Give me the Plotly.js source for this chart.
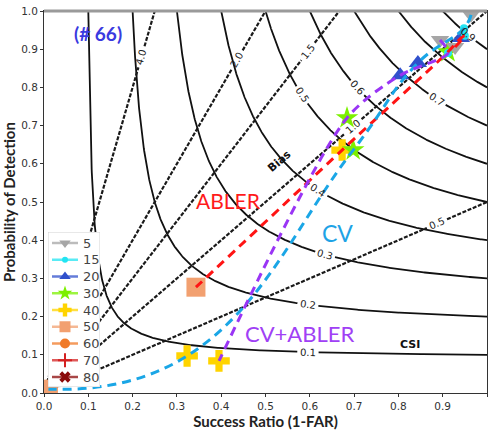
<!DOCTYPE html>
<html><head><meta charset="utf-8">
<script src="https://cdn.plot.ly/plotly-3.0.1.min.js"></script>
<style>html,body{margin:0;padding:0;background:#fff}#chart{width:492px;height:430px}</style>
</head><body><div id="chart"></div>
<script>
// ---- data ----
const thresholds = ['5','15','20','30','40','50','60','70','80'];
const cvSR     = [0.964,0.948,0.844,0.698,0.323,0.01,0.01,0.01,0.01];
const cvPOD    = [0.990,0.955,0.864,0.636,0.097,0.01,0.01,0.01,0.01];
const cvabSR   = [0.894,0.912,0.804,0.684,0.395,null,null,null,null];
const cvabPOD  = [0.924,0.890,0.832,0.720,0.084,null,null,null,null];
const ablerSR  = [0.928,0.950,0.941,0.912,0.673,0.343,null,null,null];
const ablerPOD = [0.906,0.935,0.929,0.893,0.636,0.277,null,null,null];

const csiLevels  = [0.1,0.2,0.3,0.4,0.5,0.6,0.7,0.8,0.9];
const csiLabelSR = [0.596,0.596,0.634,0.619,0.582,0.707,0.887,null,0.957];
const biasLevels  = [0.5,1.0,1.5,2.0,4.0];
const biasLabelSR = [0.887,0.698,0.596,0.436,0.22];

// ---- styles ----
const W=443, H=382, L=44, T=11;
const mkSym   = ['triangle-down','circle','triangle-up','star','cross','square','circle','cross-thin','x'];
const mkColor = ['#A6A6A6','#22E4F2','#3050CC','#7CF000','#FFD400','#F2A070','#F07A28','#D42020','#8B0A0A'];
const mkSize  = [16,8,16,17,18,19,12,12,12];
const lgSize  = [10,6,10,11,11,11,10,10,10];

const px = s => L + s*W, py = p => T + H - p*H;

const traces = [];
// CSI curves
const cx=[], cy=[];
csiLevels.forEach((c,k)=>{
  const ls = csiLabelSR[k];
  let lx=null, ly=null;
  if(ls!==null){ const lp = 1/(1/c+1-1/ls); lx=px(ls); ly=py(lp); }
  let broken=false;
  for(let i=0;i<=500;i++){
    const t=i/500, s=c+(1-c)*t*t;
    const p=1/(1/c+1-1/s);
    if(lx!==null && Math.hypot(px(s)-lx,py(p)-ly)<10){ if(!broken){cx.push(null);cy.push(null);broken=true;} continue; }
    cx.push(s); cy.push(Math.min(p,1));
  }
  cx.push(null); cy.push(null);
});
traces.push({x:cx,y:cy,mode:'lines',line:{color:'#111',width:1.8},showlegend:false,hoverinfo:'skip'});
// Bias lines
const bx=[], by=[];
biasLevels.forEach((b,k)=>{
  const es = Math.min(1,1/b), ep = Math.min(1,b);
  const ls = biasLabelSR[k];
  const len = Math.hypot(W,b*H);
  const g = 11/len;
  bx.push(0, ls-g, null, ls+g, es, null);
  by.push(0, (ls-g)*b, null, (ls+g)*b, ep, null);
});
traces.push({x:bx,y:by,mode:'lines',line:{color:'#1a1a1a',width:2.2,dash:'4px,1.6px'},showlegend:false,hoverinfo:'skip'});

// markers per threshold (drawn from 80 up to 5)
for(let i=thresholds.length-1;i>=0;i--){
  traces.push({
    x:[cvSR[i],cvabSR[i],ablerSR[i]], y:[cvPOD[i],cvabPOD[i],ablerPOD[i]],
    mode:'markers', showlegend:false, hoverinfo:'skip',
    marker:{symbol:mkSym[i],size:mkSize[i],color:mkColor[i],line:{width:(i===7?2.5:0),color:mkColor[i]}}
  });
}

// model lines
function clean(xs,ys){
  const ox=[],oy=[];
  xs.forEach((v,i)=>{ if(v===null||ys[i]===null) return;
    if(ox.length && ox[ox.length-1]===v && oy[oy.length-1]===ys[i]) return;
    ox.push(v); oy.push(ys[i]); });
  return [ox,oy];
}
[[ablerSR,ablerPOD,'#FF1414',0.8],[cvSR,cvPOD,'#1AA6E6',1.3],[cvabSR,cvabPOD,'#9A35F5',0.8]].forEach(([xs,ys,col,sm])=>{
  const [ox,oy]=clean(xs,ys);
  traces.push({x:ox,y:oy,mode:'lines',line:{color:col,width:3,dash:'9px,6px',shape:'spline',smoothing:sm},showlegend:false,hoverinfo:'skip'});
});

// ---- custom legend in an inset axis (x2/y2 in pixel-like units) ----
const LG = {left:48,right:100,top:232,bottom:387,row0:243,step:16.75};
const lgW = LG.right-LG.left;
const r0 = (LG.row0-LG.top)/LG.step, r1=(LG.bottom-LG.row0)/LG.step;
traces.push({x:[0,lgW,lgW,0,0],y:[-r0,-r0,r1,r1,-r0],xaxis:'x2',yaxis:'y2',mode:'lines',fill:'toself',
  fillcolor:'rgba(255,255,255,0.85)',line:{color:'#d2d2d2',width:1},showlegend:false,hoverinfo:'skip'});
thresholds.forEach((th,i)=>{
  traces.push({x:[4,30],y:[i,i],xaxis:'x2',yaxis:'y2',mode:'lines',line:{color:mkColor[i],width:2.5},opacity:0.75,showlegend:false,hoverinfo:'skip'});
  traces.push({x:[17],y:[i],xaxis:'x2',yaxis:'y2',mode:'markers',showlegend:false,hoverinfo:'skip',
    marker:{symbol:mkSym[i],size:lgSize[i],color:mkColor[i],line:{width:(i===7?2:0),color:mkColor[i]}}});
});

const ann=[];
thresholds.forEach((th,i)=>{
  ann.push({x:33,y:i,xref:'x2',yref:'y2',xanchor:'left',yanchor:'middle',text:th,showarrow:false,
    font:{family:'DejaVu Sans',size:13,color:'#444'}});
});
const deg = r => r*180/Math.PI;
csiLevels.forEach((c,k)=>{
  const s=csiLabelSR[k]; if(s===null) return;
  const p=1/(1/c+1-1/s);
  const m=(p*p)/(s*s)*(H/W);
  ann.push({x:s,y:p,xref:'x',yref:'y',xanchor:'center',yanchor:'middle',text:c.toFixed(1),showarrow:false,textangle:deg(Math.atan(m)),
    font:{family:'DejaVu Sans',size:10,color:'#222'}});
});
biasLevels.forEach((b,k)=>{
  const s=biasLabelSR[k], p=s*b;
  ann.push({x:s,y:p,xref:'x',yref:'y',xanchor:'center',yanchor:'middle',text:b.toFixed(1),showarrow:false,textangle:-deg(Math.atan(b*H/W)),
    font:{family:'DejaVu Sans',size:10,color:'#222'}});
});
const txt=(x,y,t,size,color,opt={})=>ann.push(Object.assign({x:(x-L)/W,y:(T+H-y)/H,xref:'paper',yref:'paper',xanchor:'center',yanchor:'middle',
  text:t,showarrow:false,font:{family:'Lato',size:size,color:color}},opt));
txt(98,34,'<b>(# 66)</b>',19,'#3A3AE0');
txt(228,200,'ABLER',21,'#FF1A1A');
txt(337,233,'CV',23,'#1EA3E6');
txt(299,333,'CV+ABLER',22,'#A040F5');
txt(410,344,'<b>CSI</b>',11,'#111',{font:{family:'DejaVu Sans',size:11,color:'#111'}});
txt(279,161,'<b>Bias</b>',11,'#111',{textangle:-41,font:{family:'DejaVu Sans',size:11,color:'#111'}});

const ticks=[0,0.1,0.2,0.3,0.4,0.5,0.6,0.7,0.8,0.9,1.0];
const axisCommon={range:[0,1],tickvals:ticks,ticktext:ticks.map(v=>v.toFixed(1)),showgrid:false,zeroline:false,
  showline:true,linecolor:'#333',linewidth:1,mirror:true,ticks:'outside',ticklen:3,tickcolor:'#333',
  tickfont:{family:'DejaVu Sans',size:10.5,color:'#333'},fixedrange:true};

const layout={
  width:492,height:430,margin:{l:L,r:492-L-W,t:T,b:430-T-H},
  paper_bgcolor:'#fff',plot_bgcolor:'#fff',
  xaxis:Object.assign({},axisCommon,{domain:[0,1],title:{text:'<b>Success Ratio (1-FAR)</b>',standoff:3,font:{family:'Lato',size:15,color:'#222'}}}),
  yaxis:Object.assign({},axisCommon,{domain:[0,1],title:{text:'<b>Probability of Detection</b>',standoff:5,font:{family:'Lato',size:15,color:'#222'}}}),
  xaxis2:{domain:[(LG.left-L)/W,(LG.right-L)/W],range:[0,lgW],visible:false,anchor:'y2',fixedrange:true,showgrid:false,zeroline:false},
  yaxis2:{domain:[(T+H-LG.bottom)/H,(T+H-LG.top)/H],range:[r1,-r0],visible:false,anchor:'x2',fixedrange:true,showgrid:false,zeroline:false},
  showlegend:false,
  annotations:ann,
  shapes:[{type:'line',xref:'paper',yref:'paper',x0:0,x1:1,y0:1,y1:1,line:{color:'#9a9a9a',width:3}}]
};
Plotly.newPlot('chart',traces,layout,{displayModeBar:false,staticPlot:true});
</script></body></html>
